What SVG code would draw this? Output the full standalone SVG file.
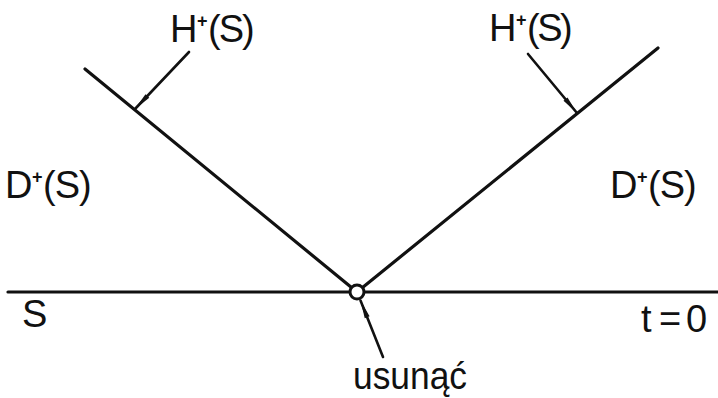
<svg xmlns="http://www.w3.org/2000/svg" width="718" height="398" viewBox="0 0 718 398">
<style>
.ln{stroke:#111;stroke-width:3.2;fill:none;stroke-linecap:round}
.ld{stroke:#111;stroke-width:2.6;fill:none;stroke-linecap:round}
.t{font-family:"Liberation Sans",Arial,sans-serif;font-size:38px;fill:#111}
.sup{font-family:"Liberation Sans",Arial,sans-serif;font-size:18px;font-weight:bold;fill:#111}
</style>
<defs>
<marker id="ah" markerUnits="userSpaceOnUse" markerWidth="30" markerHeight="30" refX="0" refY="0" orient="auto" overflow="visible">
<path d="M0,0 L-18,-2.6 L-18,2.6 Z" fill="#111"/>
</marker>
</defs>
<rect width="718" height="398" fill="#fff"/>
<g id="connectors">
<line class="ln" x1="8" y1="292" x2="718" y2="292"/>
<line class="ln" x1="85" y1="69" x2="357" y2="292"/>
<line class="ln" x1="658" y1="48" x2="357" y2="292"/>
<line class="ld" x1="189" y1="52" x2="135" y2="109" marker-end="url(#ah)"/>
<line class="ld" x1="528" y1="54" x2="577" y2="113" marker-end="url(#ah)"/>
<line class="ld" x1="383" y1="357" x2="360.5" y2="300.5" marker-end="url(#ah)"/>
</g>
<g id="event">
<circle cx="357" cy="292" r="7" fill="#fff" stroke="#111" stroke-width="3"/>
</g>
<g id="H-left">
<text class="t" x="170" y="42">H</text><text class="sup" x="197" y="27">+</text><text class="t" x="208" y="42" letter-spacing="-2">(S)</text>
</g>
<g id="H-right">
<text class="t" x="489" y="41">H</text><text class="sup" x="516" y="26">+</text><text class="t" x="527" y="41" letter-spacing="-2.5">(S)</text>
</g>
<g id="D-left">
<text class="t" x="5" y="198">D</text><text class="sup" x="32" y="183">+</text><text class="t" x="43" y="198" letter-spacing="-1">(S)</text>
</g>
<g id="D-right">
<text class="t" x="610" y="198">D</text><text class="sup" x="637" y="183">+</text><text class="t" x="648" y="198" letter-spacing="-1">(S)</text>
</g>
<g id="S">
<text class="t" x="22" y="327" font-size="36">S</text>
</g>
<g id="t0">
<text class="t" x="641" y="332" font-size="36">t</text><text class="t" x="659" y="332" font-size="32">=</text><text class="t" x="686" y="332" font-size="36">0</text>
</g>
<g id="usunac">
<text class="t" x="353" y="389" textLength="114" lengthAdjust="spacingAndGlyphs">usunąć</text>
</g>
</svg>
